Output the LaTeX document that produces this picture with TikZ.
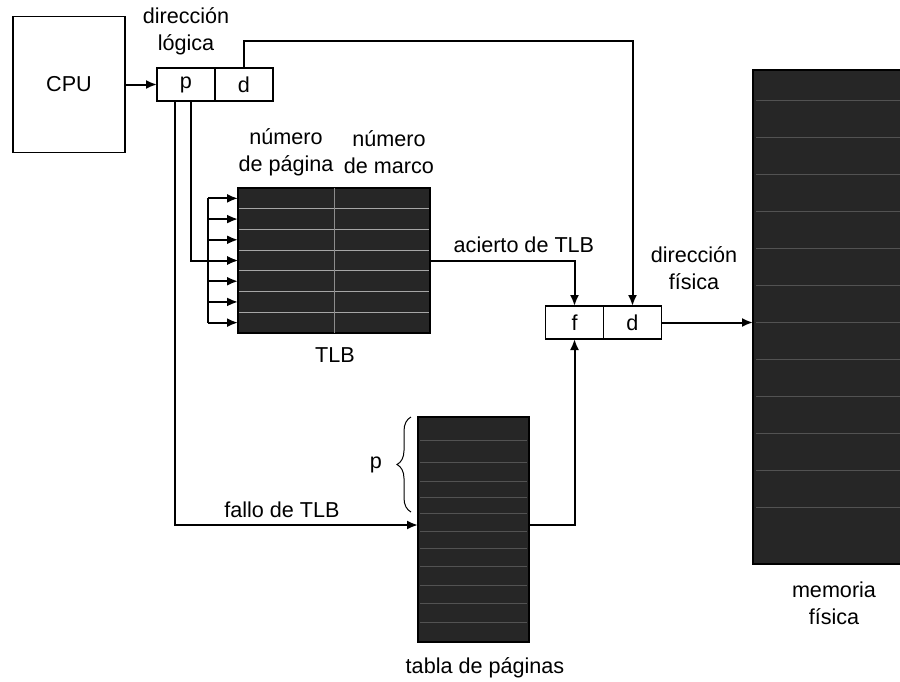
\documentclass[tikz,border=0pt]{standalone}
\usepackage{fontspec}
\setmainfont{Liberation Sans}
\usetikzlibrary{arrows.meta,decorations.pathreplacing}

\begin{document}
\begin{tikzpicture}[
    x=0.5pt, y=-0.5pt,
    >={Latex[length=5.5pt,width=4.5pt]},
    line width=1pt,
    font=\fontsize{10.8}{13.5}\selectfont,
    cell/.style={
        rectangle,
        draw,
        line width=0.7pt,
        minimum width=29pt,
        minimum height=16.5pt,
        inner sep=0pt,
        outer sep=0pt
    },
    darkblock/.style={
        rectangle,
        fill=black!85,
        draw=black,
        line width=0.7pt,
        inner sep=0pt,
        outer sep=0pt
    },
    texture/.style={
        draw=black!68,
        line width=0.4pt
    }
]

\useasboundingbox (0,0) rectangle (900,681);

\node[draw, line width=0.7pt, minimum width=56pt, minimum height=68pt,
      inner sep=0pt, outer sep=0pt] (cpu) at (69,84.5) {CPU};

\node[cell] (lp) at (186,84.5) {p};
\node[cell] (ld) at (244,84.5) {d};

\node[cell] (pf) at (574.5,322.5) {f};
\node[cell] (pd) at (632.5,322.5) {d};

\node[darkblock, minimum width=96pt, minimum height=72.5pt] (tlb) at (334,260.5) {};
\node[darkblock, minimum width=55.5pt, minimum height=112.5pt] (ptab) at (473.5,529.5) {};
\node[darkblock, minimum width=75pt, minimum height=247pt] (mem) at (828,317) {};

% texture of the dark blocks
\foreach \k in {1,...,6}
    \draw[texture, draw=black!35] (239,{188+\k*145/7}) -- (429,{188+\k*145/7});
\draw[texture, draw=black!45] (tlb.north) -- (tlb.south);
\foreach \yy in {440,462,481,497,513,531,548,566,585,603,622}
    \draw[texture] (420,\yy) -- (527,\yy);
\foreach \yy in {100,137,...,540}
    \draw[texture] (756,\yy) -- (900,\yy);

% TLB entries
\foreach \r in {1,...,7}
    \coordinate (row\r) at (238,{188+(\r-0.5)*145/7});
\coordinate (bustop) at (208,0);
\draw (bustop |- row1) -- (bustop |- row7);
\foreach \r in {1,...,7}
    \draw[->] (bustop |- row\r) -- (row\r);

\draw[->]
(cpu) -- (lp);

\draw[->]
([xshift=2.5pt]lp.south) |- (row4);

\draw[->]
([xshift=-5.5pt]lp.south) |-
node[pos=0.72, above] {fallo de TLB}
([yshift=2.25pt]ptab.west);

\coordinate (dtop) at (632.5,41);

\draw[->]
(ld.north) |- (dtop) -- (pd.north);

\draw[->]
(tlb.east |- row4) -|
node[pos=0.325, above] {acierto de TLB}
(pf.north);

\draw[->]
([yshift=2.25pt]ptab.east) -| (pf.south);

\draw[->]
(pd.east) -- (pd.east -| mem.west);

\draw[line width=0.5pt, decorate, decoration={brace, amplitude=7pt}]
(411,512) -- (411,417);

\node (plabel) at (376,465) {p};
\node[align=center] (logaddrlabel) at (186,31) {dirección\\lógica};
\node[align=center] (pagenumlabel) at (286,152) {número\\de página};
\node[align=center] (framenumlabel) at (389,152) {número\\de marco};
\node (tlblabel) at (335,355) {TLB};
\node[align=center] (physaddrlabel) at (694,268) {dirección\\física};
\node (ptablabel) at (485,668) {tabla de páginas};
\node[align=center] (memlabel) at (834,603) {memoria\\física};

\end{tikzpicture}
\end{document}
